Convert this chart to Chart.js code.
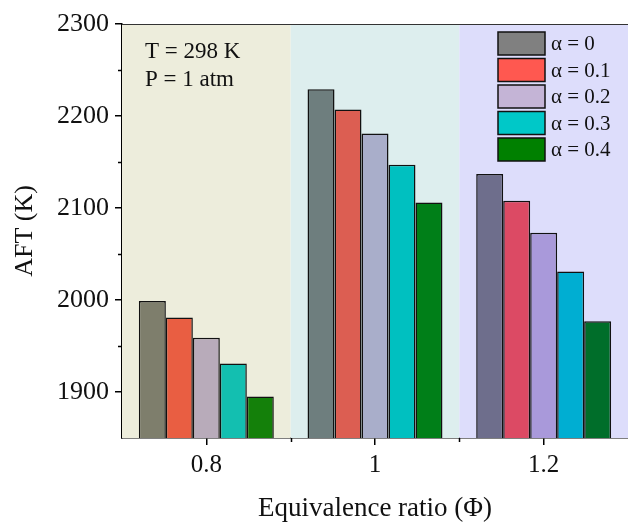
<!DOCTYPE html>
<html>
<head>
<meta charset="utf-8">
<script src="https://cdn.jsdelivr.net/npm/chart.js@4"></script>
<style>
  html, body { margin: 0; padding: 0; background: #fff; }
  #wrap { width: 628px; height: 522px; }
</style>
</head>
<body>
<div id="wrap"><canvas id="grafico" width="628" height="522"></canvas></div>
<script>
// equivalence ratio groups
const categories = ["0.8", "1", "1.2"];
const seriesLabels = ["α = 0", "α = 0.1", "α = 0.2", "α = 0.3", "α = 0.4"];

// adiabatic flame temperature (K), one array per alpha
const aftAlpha0 = [1999, 2229, 2137];
const aftAlpha1 = [1981, 2207, 2108];
const aftAlpha2 = [1959, 2181, 2073];
const aftAlpha3 = [1931, 2147, 2031];
const aftAlpha4 = [1895, 2106, 1977];

const yTicks = [1900, 2000, 2100, 2200, 2300];
const yMinorTicks = [1950, 2050, 2150, 2250];

// legend swatches and the tinted fills seen over each background band
const legendColors = ["#808080", "#ff5850", "#c4b4d6", "#00c8c8", "#008000"];
const barColors = [
  ["#7e7e6c", "#6e7e7e", "#6e6e8c"],
  ["#e95e42", "#dc5e52", "#dc4a64"],
  ["#b8abba", "#a9aeca", "#a999da"],
  ["#13bfb0", "#00c0c0", "#00aed2"],
  ["#14800a", "#007f18", "#006e2a"]
];
const regionColors = ["#ededdc", "#ddeeee", "#ddddfb"];

const series = [aftAlpha0, aftAlpha1, aftAlpha2, aftAlpha3, aftAlpha4];

const fuente = "Liberation Serif, Times New Roman, serif";

const fondos = {
  id: "fondos",
  beforeDatasetsDraw(chart) {
    const { ctx, chartArea, scales } = chart;
    const x = scales.x;
    const paso = x.getPixelForValue(1) - x.getPixelForValue(0);
    ctx.save();
    categories.forEach((c, i) => {
      const centro = x.getPixelForValue(i);
      const izq = Math.max(chartArea.left, centro - paso / 2);
      const der = Math.min(chartArea.right, centro + paso / 2);
      ctx.fillStyle = regionColors[i];
      ctx.fillRect(izq, chartArea.top, der - izq, chartArea.bottom - chartArea.top);
    });
    ctx.restore();
  },
  afterDraw(chart) {
    const { ctx, chartArea, scales } = chart;
    const x = scales.x;
    const y = scales.y;
    ctx.save();
    // top frame line
    ctx.strokeStyle = "#333";
    ctx.lineWidth = 1.2;
    ctx.beginPath();
    ctx.moveTo(chartArea.left, chartArea.top + 0.5);
    ctx.lineTo(chartArea.right, chartArea.top + 0.5);
    ctx.stroke();

    // minor ticks
    ctx.strokeStyle = "#000";
    ctx.lineWidth = 1.5;
    ctx.beginPath();
    yMinorTicks.forEach((v) => {
      const py = Math.round(y.getPixelForValue(v)) + 0.5;
      ctx.moveTo(chartArea.left, py);
      ctx.lineTo(chartArea.left - 4, py);
    });
    const paso = x.getPixelForValue(1) - x.getPixelForValue(0);
    for (let i = 0; i < categories.length - 1; i++) {
      const px = Math.round(x.getPixelForValue(i) + paso / 2) + 0.5;
      ctx.moveTo(px, chartArea.bottom);
      ctx.lineTo(px, chartArea.bottom + 4);
    }
    ctx.stroke();

    // condition note
    ctx.fillStyle = "#111";
    ctx.font = "23px " + fuente;
    ctx.textBaseline = "middle";
    ctx.textAlign = "left";
    ctx.fillText("T = 298 K", 145, 52);
    ctx.fillText("P = 1 atm", 145, 80);

    // legend
    const lx = 498, ly = 32, bw = 47, bh = 23, gap = 26.5;
    seriesLabels.forEach((lab, i) => {
      const top = ly + i * gap;
      ctx.fillStyle = legendColors[i];
      ctx.fillRect(lx, top, bw, bh);
      ctx.strokeStyle = "#111";
      ctx.lineWidth = 1.5;
      ctx.strokeRect(lx, top, bw, bh);
      ctx.fillStyle = "#111";
      ctx.font = "21px " + fuente;
      ctx.fillText(lab, lx + bw + 6, top + bh / 2 + 1);
    });
    ctx.restore();
  }
};

const ctx = document.getElementById("grafico").getContext("2d");

new Chart(ctx, {
  type: "bar",
  data: {
    labels: categories,
    datasets: series.map((valores, i) => ({
      label: seriesLabels[i],
      data: valores,
      backgroundColor: barColors[i],
      borderColor: "#111",
      borderWidth: 1.5,
      borderSkipped: false,
      categoryPercentage: 0.8,
      barPercentage: 1.0
    }))
  },
  options: {
    responsive: false,
    animation: false,
    layout: { padding: { top: 24, right: 0, left: 0, bottom: 0 } },
    plugins: {
      legend: { display: false },
      tooltip: { enabled: false }
    },
    scales: {
      x: {
        offset: true,
        grid: {
          offset: false,
          drawOnChartArea: false,
          color: "#000",
          lineWidth: 1.5,
          tickLength: 7
        },
        border: { color: "#000", width: 1.5 },
        ticks: {
          color: "#111",
          font: { family: fuente, size: 25 },
          padding: 5
        },
        title: {
          display: true,
          text: "Equivalence ratio (Φ)",
          color: "#111",
          font: { family: fuente, size: 27, lineHeight: 1 },
          padding: { top: 0, bottom: 0 }
        },
        afterFit(scale) { scale.height = 84; }
      },
      y: {
        min: 1850,
        max: 2300,
        afterBuildTicks(scale) {
          scale.ticks = yTicks.map((v) => ({ value: v }));
        },
        grid: {
          drawOnChartArea: false,
          color: "#000",
          lineWidth: 1.5,
          tickLength: 7
        },
        border: { color: "#000", width: 1.5 },
        ticks: {
          color: "#111",
          font: { family: fuente, size: 26 },
          padding: 6,
          callback: (v) => String(v)
        },
        title: {
          display: true,
          text: "AFT (K)",
          color: "#111",
          font: { family: fuente, size: 26 },
          padding: { top: 10, bottom: 8 }
        },
        afterFit(scale) { scale.width = 122; }
      }
    }
  },
  plugins: [fondos]
});
</script>
</body>
</html>
